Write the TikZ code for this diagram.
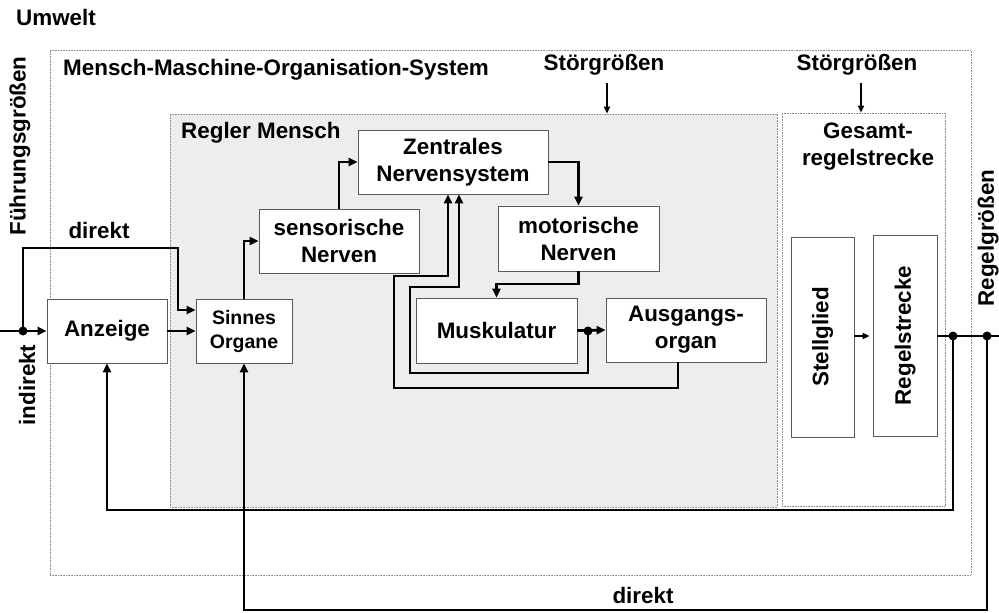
\documentclass[tikz,border=0pt]{standalone}
\usepackage{fontspec}
\setmainfont{Liberation Sans}
\usetikzlibrary{arrows.meta}
\begin{document}
\begin{tikzpicture}[x=1pt,y=-1pt,
 every node/.style={font=\fontsize{22.4}{27}\selectfont\bfseries},
 blk/.style={draw=black!65, line width=0.7pt, fill=white, inner sep=0pt, align=center},
 frame/.style={draw=black!45, line width=0.6pt, densely dotted, inner sep=0pt},
 lbl/.style={inner sep=2pt},
 arr/.style={line width=2.7pt, -{Triangle[length=9pt,width=8pt]}},
 thinarr/.style={line width=1.6pt, -{Triangle[length=7pt,width=6pt]}},
 ln/.style={line width=2.7pt},
]
\useasboundingbox (0,0) rectangle (999,613);
\fill[white] (0,0) rectangle (999,613);

% frames
\node[frame, minimum width=921pt, minimum height=525pt] (mmos) at (510.5,312.5) {};
\node[frame, fill=black!7, minimum width=607pt, minimum height=393pt] (regler) at (473.5,310.5) {};
\node[frame, fill=white, minimum width=163pt, minimum height=393pt] (gesamt) at (863.5,309.5) {};

% labels
\node[lbl, anchor=west] (umwelt) at (14,17) {Umwelt};
\node[lbl, anchor=west] (mmoslbl) at (61,70) {Mensch-Maschine-Organisation-System};
\node[lbl, anchor=west] (reglerlbl) at (179,133) {Regler Mensch};
\node[lbl] (s1) at (604,65) {Störgrößen};
\node[lbl] (s2) at (857,65) {Störgrößen};
\node[lbl, align=center] (gesamtlbl) at (868,147) {Gesamt-\\regelstrecke};
\node[lbl, rotate=90] (fuehr) at (20,146) {Führungsgrößen};
\node[lbl, rotate=90] (indir) at (27,385) {indirekt};
\node[lbl, rotate=90] (regelgr) at (988,238) {Regelgrößen};
\node[lbl] (direkt1) at (99,230) {direkt};
\node[lbl] (direkt2) at (643,595) {direkt};

% blocks
\node[blk, minimum width=120pt, minimum height=64pt] (anz) at (107,331) {Anzeige};
\node[blk, minimum width=96pt, minimum height=64pt, font=\fontsize{19.5}{24}\selectfont\bfseries] (sin) at (244,331) {Sinnes\\Organe};
\node[blk, minimum width=160pt, minimum height=64pt] (sen) at (339,241) {sensorische\\Nerven};
\node[blk, minimum width=190pt, minimum height=64pt] (zns) at (453,162) {Zentrales\\Nervensystem};
\node[blk, minimum width=161pt, minimum height=65pt] (mot) at (578.5,238.5) {motorische\\Nerven};
\node[blk, minimum width=161pt, minimum height=65pt] (mus) at (496.5,330.5) {Muskulatur};
\node[blk, minimum width=160pt, minimum height=64pt] (aus) at (686,330) {Ausgangs-\\organ};
\node[blk, minimum width=63pt, minimum height=200pt] (stell) at (822.5,337) {\rotatebox{90}{Stellglied}};
\node[blk, minimum width=64pt, minimum height=201pt] (rstr) at (905,335.5) {\rotatebox{90}{Regelstrecke}};

% junctions
\coordinate (in) at (0,331);
\coordinate (j1) at (23,331);
\coordinate (j2) at (588,331);
\coordinate (j3) at (953,336);
\coordinate (j4) at (987,336);
\coordinate (out) at (999,336);

% disturbances
\draw[thinarr] (607,83) -- (regler.north -| 607,0);
\draw[thinarr] (861,83) -- (gesamt.north -| 861,0);

% input
\draw[arr] (in) -- (anz.west);
\draw[arr] (j1) -- (23,248) -- (178,248) -- (178,310) -- (sin.west |- 0,310);
\draw[arr] (anz.east) -- (sin.west);

% human chain
\draw[arr] (sin.north) |- (sen.west);
\draw[arr] (sen.north) |- (zns.west);
\draw[arr] (zns.east) -| (mot.north);
\draw[arr] (mot.south) -- (mot.south |- 0,284) -| (mus.north);
\draw[arr] (mus.east) -- (aus.west);

% internal feedback
\draw[arr] (j2) -- (588,373) -- (410,373) -- (410,287) -- (459,287) -- (zns.south -| 459,0);
\draw[arr] (aus.south -| 678,0) -- (678,388) -- (394,388) -- (394,276) -- (448,276) -- (zns.south -| 448,0);

% plant
\draw[thinarr, shorten >=3pt] (stell.east |- 0,336) -- (rstr.west |- 0,336);
\draw[ln] (rstr.east |- 0,336) -- (out);

% external feedback
\draw[arr] (j3) -- (j3 |- 0,510) -| (anz.south);
\draw[arr] (j4) -- (j4 |- 0,610) -| (sin.south);

% dots
\fill (j1) circle (4.5pt);
\fill (j2) circle (4.5pt);
\fill (j3) circle (4.5pt);
\fill (j4) circle (4.5pt);
\end{tikzpicture}
\end{document}
